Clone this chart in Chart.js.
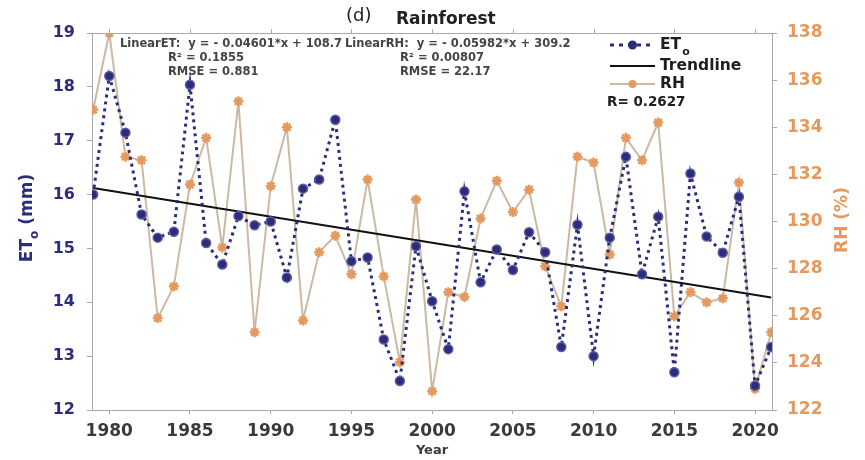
<!DOCTYPE html>
<html>
<head>
<meta charset="utf-8">
<script src="https://cdn.jsdelivr.net/npm/chart.js@4.4.1/dist/chart.umd.min.js"></script>
<style>
  html, body { margin: 0; padding: 0; background: #fff; }
  #wrap { width: 865px; height: 460px; }
</style>
</head>
<body>
<div id="wrap"><canvas id="myChart" width="865" height="460"></canvas></div>
<script>
// yearly series, 1979 - 2021
const years = [1979, 1980, 1981, 1982, 1983, 1984, 1985, 1986, 1987, 1988, 1989, 1990, 1991, 1992, 1993,
  1994, 1995, 1996, 1997, 1998, 1999, 2000, 2001, 2002, 2003, 2004, 2005, 2006, 2007, 2008, 2009, 2010,
  2011, 2012, 2013, 2014, 2015, 2016, 2017, 2018, 2019, 2020, 2021];

// reference evapotranspiration ET0 (mm)
const etValues = [16.0, 18.2, 17.15, 15.63, 15.2, 15.31, 18.04, 15.1, 14.7, 15.6, 15.43, 15.5, 14.46, 16.11, 16.28,
  17.39, 14.76, 14.83, 13.31, 12.54, 15.04, 14.02, 13.13, 16.06, 14.37, 14.98, 14.6, 15.3, 14.93, 13.17, 15.44, 13.0,
  15.2, 16.7, 14.52, 15.59, 12.7, 16.39, 15.22, 14.92, 15.96, 12.45, 13.17];

// relative humidity RH (%)
const rhValues = [134.74, 138.0, 132.75, 132.6, 125.9, 127.25, 131.57, 133.55, 128.9, 135.1, 125.3, 131.5, 134.0, 125.8, 128.7,
  129.4, 127.76, 131.78, 127.67, 124.03, 130.93, 122.8, 127.0, 126.8, 130.13, 131.73, 130.4, 131.35, 128.1, 126.4, 132.75, 132.5,
  128.6, 133.55, 132.6, 134.2, 125.98, 127.0, 126.57, 126.74, 131.65, 122.9, 125.3];

// linear trend of ET0, end points
const trendYears = [1979, 2021];
const trendValues = [16.12, 14.09];

const xTicks = [1980, 1985, 1990, 1995, 2000, 2005, 2010, 2015, 2020];
const etTicks = [12, 13, 14, 15, 16, 17, 18, 19];
const rhTicks = [122, 124, 126, 128, 130, 132, 134, 136, 138];

const navy = '#2c2c7c';
const orange = '#e6995e';
const rhLine = '#cbb9a4';
const axisGray = '#a9a9a9';
const fam = "'DejaVu Sans', sans-serif";

const toPoints = (xs, ys) => xs.map((x, i) => ({ x: x, y: ys[i] }));

// extra drawing: frame top, title, fit equations, legend, rotated axis titles
const decorations = {
  id: 'decorations',
  afterDraw(chart) {
    const ctx = chart.ctx;
    const a = chart.chartArea;
    const xs = chart.scales.x;
    ctx.save();

    // top frame line with small ticks
    ctx.strokeStyle = axisGray;
    ctx.lineWidth = 1;
    ctx.beginPath();
    ctx.moveTo(a.left, a.top + 0.5);
    ctx.lineTo(a.right, a.top + 0.5);
    xTicks.forEach(v => {
      const px = Math.round(xs.getPixelForValue(v)) + 0.5;
      ctx.moveTo(px, a.top);
      ctx.lineTo(px, a.top - 4);
    });
    ctx.stroke();

    // title
    ctx.fillStyle = '#222';
    ctx.textBaseline = 'middle';
    ctx.textAlign = 'left';
    ctx.font = '18px ' + fam;
    ctx.fillText('(d)', 346, 16);
    ctx.font = 'bold 17px ' + fam;
    ctx.fillText('Rainforest', 396, 20);

    // fit equations
    ctx.fillStyle = '#444';
    ctx.font = 'bold 11.5px ' + fam;
    ctx.fillText('LinearET:  y = - 0.04601*x + 108.7', 120, 44);
    ctx.fillText('LinearRH:  y = - 0.05982*x + 309.2', 345, 44);
    ctx.fillText('R\u00B2 = 0.1855', 168, 58);
    ctx.fillText('RMSE = 0.881', 168, 72);
    ctx.fillText('R\u00B2 = 0.00807', 400, 58);
    ctx.fillText('RMSE = 22.17', 400, 72);

    // legend
    const lx0 = 610, lx1 = 655, tx = 660;
    ctx.lineWidth = 3;
    ctx.strokeStyle = navy;
    ctx.setLineDash([4, 5]);
    ctx.beginPath();
    ctx.moveTo(lx0, 45);
    ctx.lineTo(lx1, 45);
    ctx.stroke();
    ctx.setLineDash([]);
    ctx.fillStyle = navy;
    ctx.beginPath();
    ctx.arc((lx0 + lx1) / 2, 45, 4.5, 0, Math.PI * 2);
    ctx.fill();

    ctx.lineWidth = 2;
    ctx.strokeStyle = '#111';
    ctx.beginPath();
    ctx.moveTo(lx0, 66);
    ctx.lineTo(lx1, 66);
    ctx.stroke();

    ctx.strokeStyle = rhLine;
    ctx.beginPath();
    ctx.moveTo(lx0, 84);
    ctx.lineTo(lx1, 84);
    ctx.stroke();
    ctx.fillStyle = orange;
    ctx.beginPath();
    ctx.arc((lx0 + lx1) / 2, 84, 4, 0, Math.PI * 2);
    ctx.fill();

    ctx.fillStyle = '#1e1e1e';
    ctx.font = 'bold 15.5px ' + fam;
    ctx.fillText('ET', tx, 45);
    const etw = ctx.measureText('ET').width;
    ctx.font = 'bold 11px ' + fam;
    ctx.fillText('o', tx + etw + 1, 52);
    ctx.font = 'bold 15.5px ' + fam;
    ctx.fillText('Trendline', tx, 66);
    ctx.fillText('RH', tx, 84);
    ctx.font = 'bold 13.5px ' + fam;
    ctx.fillText('R= 0.2627', 607, 102);

    // left axis title, ET with subscript o
    ctx.save();
    ctx.translate(28, 218);
    ctx.rotate(-Math.PI / 2);
    ctx.fillStyle = navy;
    ctx.textAlign = 'left';
    ctx.font = 'bold 17px ' + fam;
    const w1 = ctx.measureText('ET').width;
    ctx.font = 'bold 12px ' + fam;
    const w2 = ctx.measureText('o').width;
    ctx.font = 'bold 17px ' + fam;
    const w3 = ctx.measureText(' (mm)').width;
    let sx = -(w1 + w2 + w3) / 2;
    ctx.fillText('ET', sx, 0);
    ctx.font = 'bold 12px ' + fam;
    ctx.fillText('o', sx + w1, 7);
    ctx.font = 'bold 17px ' + fam;
    ctx.fillText(' (mm)', sx + w1 + w2, 0);
    ctx.restore();

    // right axis title
    ctx.save();
    ctx.translate(843, 220);
    ctx.rotate(-Math.PI / 2);
    ctx.fillStyle = orange;
    ctx.textAlign = 'center';
    ctx.font = 'bold 17px ' + fam;
    ctx.fillText('RH (%)', 0, 0);
    ctx.restore();

    ctx.restore();
  }
};

const config = {
  type: 'line',
  data: {
    datasets: [
      {
        label: 'ET',
        data: toPoints(years, etValues),
        yAxisID: 'y',
        borderColor: navy,
        borderWidth: 3,
        borderDash: [3, 4],
        backgroundColor: navy,
        pointRadius: 4.5,
        pointBorderColor: '#5c5ca0',
        pointBorderWidth: 1.5,
        pointBackgroundColor: navy,
        order: 0
      },
      {
        label: 'Trendline',
        data: toPoints(trendYears, trendValues),
        yAxisID: 'y',
        borderColor: '#111',
        borderWidth: 2,
        pointRadius: 0,
        order: 1
      },
      {
        label: 'RH',
        data: toPoints(years, rhValues),
        yAxisID: 'y1',
        borderColor: rhLine,
        borderWidth: 2,
        pointStyle: 'star',
        pointRadius: 5,
        pointBorderColor: orange,
        pointBorderWidth: 2.5,
        pointBackgroundColor: orange,
        order: 2
      }
    ]
  },
  options: {
    responsive: false,
    animation: false,
    layout: { padding: { top: 33, left: 0, right: 0, bottom: 0 } },
    plugins: {
      legend: { display: false },
      title: { display: false },
      tooltip: { enabled: false }
    },
    scales: {
      x: {
        type: 'linear',
        min: 1978.93,
        max: 2021.05,
        afterBuildTicks: s => { s.ticks = xTicks.map(v => ({ value: v })); },
        afterFit: s => { s.height = 50; },
        border: { display: true, color: axisGray, width: 1 },
        grid: { drawOnChartArea: false, drawTicks: true, tickLength: 4, color: axisGray },
        ticks: {
          padding: 7,
          color: '#3a3a3a',
          font: { family: fam, size: 17, weight: 'bold' },
          callback: v => String(v)
        },
        title: {
          display: true,
          text: 'Year',
          color: '#3a3a3a',
          font: { family: fam, size: 13, weight: 'bold' },
          padding: { top: 0, bottom: 2 }
        }
      },
      y: {
        position: 'left',
        min: 12,
        max: 19,
        afterBuildTicks: s => { s.ticks = etTicks.map(v => ({ value: v })); },
        afterFit: s => { s.width = 92; },
        border: { display: true, color: axisGray, width: 1 },
        grid: { drawOnChartArea: false, drawTicks: true, tickLength: 5, color: axisGray },
        ticks: {
          padding: 12,
          color: navy,
          font: { family: fam, size: 16, weight: 'bold' }
        }
      },
      y1: {
        position: 'right',
        min: 122,
        max: 138,
        afterBuildTicks: s => { s.ticks = rhTicks.map(v => ({ value: v })); },
        afterFit: s => { s.width = 93; },
        border: { display: true, color: axisGray, width: 1 },
        grid: { drawOnChartArea: false, drawTicks: true, tickLength: 5, color: axisGray },
        ticks: {
          padding: 10,
          color: orange,
          font: { family: fam, size: 17, weight: 'bold' }
        }
      }
    }
  },
  plugins: [decorations]
};

const myChart = new Chart(document.getElementById('myChart'), config);
</script>
</body>
</html>
